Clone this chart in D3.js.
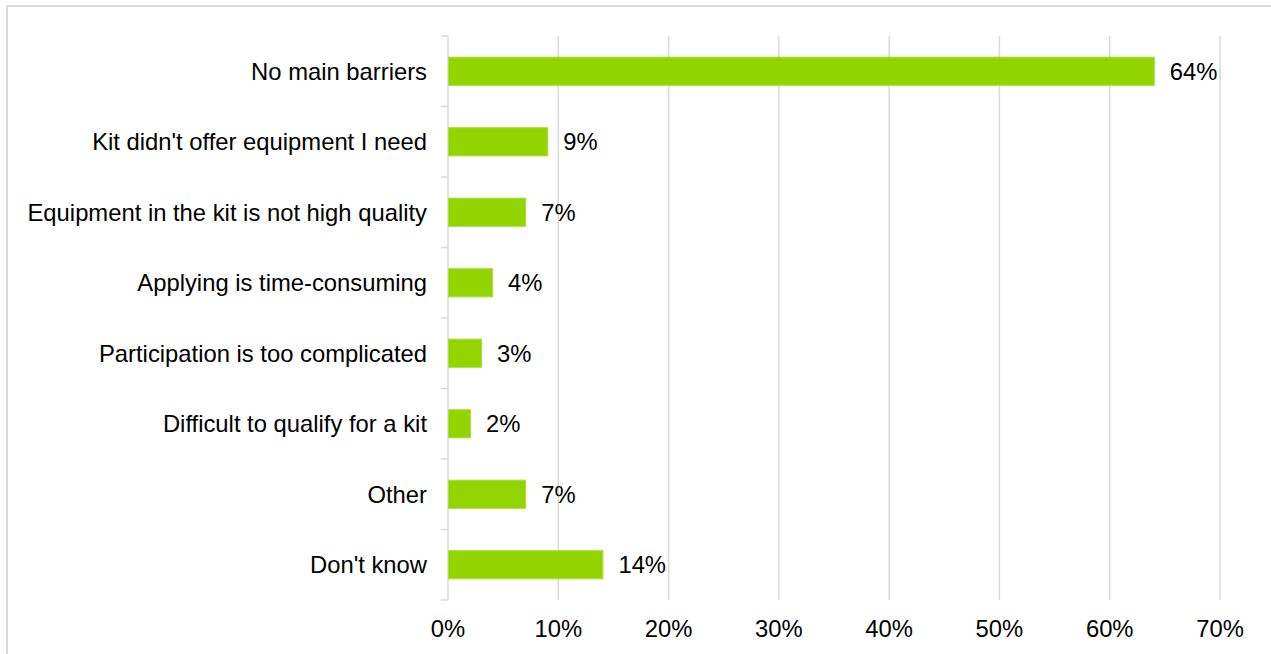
<!DOCTYPE html>
<html>
<head>
<meta charset="utf-8">
<script src="https://cdn.jsdelivr.net/npm/d3@7"></script>
<style>
  html, body { margin: 0; padding: 0; background: #fff; }
  text { font-family: 'Liberation Sans', Arial, sans-serif; fill: #000; }
</style>
</head>
<body>
<svg id="chart"></svg>
<script>
// Data
const categories = [
  'No main barriers',
  "Kit didn't offer equipment I need",
  'Equipment in the kit is not high quality',
  'Applying is time-consuming',
  'Participation is too complicated',
  'Difficult to qualify for a kit',
  'Other',
  "Don't know",
];
const values = [64, 9, 7, 4, 3, 2, 7, 14];
const xTicks = [0, 10, 20, 30, 40, 50, 60, 70];

// Layout
const WIDTH = 1271;
const HEIGHT = 654;
const LEFT = 448;
const RIGHT = 1220;
const TOP = 36;
const BOTTOM = 600;
const GRID = '#d9d9d9';
const GREEN = '#92d400';
const FONT = 23.8;

const svg = d3.select('#chart').attr('width', WIDTH).attr('height', HEIGHT);

// Frame (top and left edges only)
svg.append('path')
  .attr('d', `M7,${HEIGHT} V6 H${WIDTH}`)
  .attr('fill', 'none')
  .attr('stroke', GRID)
  .attr('stroke-width', 2);

const x = d3.scaleLinear([0, 70], [LEFT, RIGHT]);
const y = d3.scaleBand(categories, [TOP, BOTTOM]).paddingInner(0.6).paddingOuter(0.3);
const band = d3.scaleBand(categories, [TOP, BOTTOM]);

// Vertical gridlines
svg.append('g')
  .selectAll('line')
  .data(xTicks.slice(1))
  .join('line')
  .attr('x1', (d) => x(d))
  .attr('x2', (d) => x(d))
  .attr('y1', TOP)
  .attr('y2', BOTTOM)
  .attr('stroke', GRID)
  .attr('stroke-width', 1.5);

// Y axis line and category boundary ticks
svg.append('line')
  .attr('x1', LEFT).attr('x2', LEFT)
  .attr('y1', TOP).attr('y2', BOTTOM)
  .attr('stroke', GRID).attr('stroke-width', 1.5);

const bounds = categories.map((c) => band(c)).concat([BOTTOM]);
svg.append('g')
  .selectAll('line')
  .data(bounds)
  .join('line')
  .attr('x1', LEFT - 7)
  .attr('x2', LEFT)
  .attr('y1', (d) => d)
  .attr('y2', (d) => d)
  .attr('stroke', GRID)
  .attr('stroke-width', 1.5);

// Bars
const rows = categories.map((c, i) => ({ c, v: values[i] }));
svg.append('g')
  .selectAll('rect')
  .data(rows)
  .join('rect')
  .attr('x', x(0) + 0.5)
  .attr('y', (d) => y(d.c))
  .attr('width', (d) => x(d.v) - x(0))
  .attr('height', y.bandwidth())
  .attr('fill', GREEN)
  .attr('stroke', '#a9de3e')
  .attr('stroke-width', 1);

// Value labels
svg.append('g')
  .selectAll('text')
  .data(rows)
  .join('text')
  .attr('x', (d) => x(d.v) + 16)
  .attr('y', (d) => y(d.c) + y.bandwidth() / 2)
  .attr('dy', '0.35em')
  .attr('font-size', FONT)
  .text((d) => `${d.v}%`);

// Category labels
svg.append('g')
  .selectAll('text')
  .data(rows)
  .join('text')
  .attr('x', 427)
  .attr('y', (d) => y(d.c) + y.bandwidth() / 2)
  .attr('dy', '0.35em')
  .attr('text-anchor', 'end')
  .attr('font-size', FONT)
  .text((d) => d.c);

// X tick labels
svg.append('g')
  .selectAll('text')
  .data(xTicks)
  .join('text')
  .attr('x', (d) => x(d))
  .attr('y', 637)
  .attr('text-anchor', 'middle')
  .attr('font-size', FONT)
  .text((d) => `${d}%`);
</script>
</body>
</html>
